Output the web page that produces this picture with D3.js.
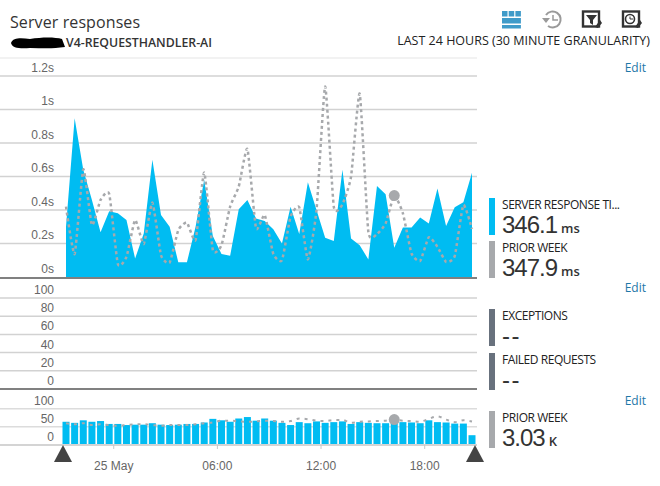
<!DOCTYPE html>
<html>
<head>
<meta charset="utf-8">
<script src="https://cdn.jsdelivr.net/npm/d3@7"></script>
<style>
  body { margin: 0; background: #fff; }
  svg { display: block; font-family: "Open Sans", "Noto Sans", sans-serif; }
  .tick text { font-size: 12px; fill: #666; }
  .domain { display: none; }
</style>
</head>
<body>
<svg id="chart" width="660" height="486"></svg>
<script>
// response time in seconds, one value per 30 minutes
const responseTime = [0.30,0.948,0.64,0.46,0.267,0.392,0.38,0.34,0.11,0.26,0.70,0.37,0.30,0.088,0.088,0.30,0.58,0.245,0.137,0.127,0.404,0.46,0.35,0.335,0.285,0.20,0.42,0.257,0.566,0.40,0.235,0.215,0.64,0.23,0.19,0.105,0.544,0.494,0.175,0.295,0.295,0.355,0.32,0.528,0.305,0.416,0.446,0.623];
const responseTimePrior = [0.42,0.137,0.643,0.31,0.46,0.496,0.078,0.12,0.34,0.197,0.444,0.13,0.086,0.28,0.325,0.22,0.623,0.16,0.19,0.42,0.54,0.765,0.29,0.37,0.137,0.10,0.36,0.416,0.105,0.40,1.137,0.42,0.434,0.60,1.094,0.27,0.257,0.32,0.486,0.38,0.14,0.096,0.237,0.18,0.09,0.125,0.43,0.287];
const requests = [64,61,68,64,66,58,58,55,56,56,60,56,55,56,58,58,62,72,68,64,73,77,67,73,67,61,55,63,60,65,61,63,65,58,63,61,60,60,60,63,62,60,68,63,62,59,59,27];
const requestsPrior = [60,57,60,55,57,55,53,55,57,57,55,53,55,55,55,57,60,62,67,67,65,64,65,67,66,64,66,73,71,67,66,69,69,61,64,65,66,67,70,67,66,64,72,79,70,63,68,65];

const responseTicks = [0, 0.2, 0.4, 0.6, 0.8, 1, 1.2];
const failureTicks = [0, 20, 40, 60, 80, 100];
const requestTicks = [0, 50, 100];
const timeTicks = [new Date(2017,4,25,0,0), new Date(2017,4,25,6,0), new Date(2017,4,25,12,0), new Date(2017,4,25,18,0)];
const startTime = new Date(2017,4,24,21,16);
const hoverIndex = 38;

const legendLabels = ["SERVER RESPONSE TI...", "PRIOR WEEK", "EXCEPTIONS", "FAILED REQUESTS", "PRIOR WEEK"];
const legendValues = ["346.1", "347.9", "--", "--", "3.03"];
const legendUnits = ["ms", "ms", "", "", "K"];

const blue = "#00bcf2", gray = "#a7a9ac", slate = "#68717d";
const svg = d3.select("#chart");
const times = responseTime.map((d, i) => d3.timeMinute.offset(startTime, i * 30));

const x = d3.scaleTime().domain([times[0], times[times.length - 1]]).range([66, 472]);
const yResp = d3.scaleLinear().domain([0, 1.2]).range([277, 76]);
const yFail = d3.scaleLinear().domain([0, 100]).range([389, 298]);
const yReq = d3.scaleLinear().domain([0, 100]).range([445, 408.7]);

// gridlines
function grid(scale, ticks, color) {
  svg.append("g").selectAll("line").data(ticks).enter().append("line")
    .attr("x1", 0).attr("x2", 477)
    .attr("y1", d => scale(d)).attr("y2", d => scale(d))
    .attr("stroke", color).attr("stroke-width", 1.5);
}
grid(yResp, responseTicks.slice(1), "#d2d2d2");
grid(yFail, failureTicks.slice(1), "#d2d2d2");
grid(yReq, requestTicks.slice(1), "#dcdcdc");
svg.append("line").attr("x1", 0).attr("x2", 477).attr("y1", 58).attr("y2", 58).attr("stroke", "#eee").attr("stroke-width", 1.5);

// response time panel
svg.append("path").datum(responseTime)
  .attr("fill", blue)
  .attr("d", d3.area().x((d, i) => x(times[i])).y0(yResp(0)).y1(d => yResp(d)));
svg.append("path").datum(responseTimePrior)
  .attr("fill", "none").attr("stroke", gray).attr("stroke-width", 2.5).attr("stroke-dasharray", "3,3")
  .attr("d", d3.line().x((d, i) => x(times[i])).y(d => yResp(d)).curve(d3.curveCardinal.tension(0.5)));
svg.append("circle").attr("cx", x(times[hoverIndex])).attr("cy", yResp(responseTimePrior[hoverIndex])).attr("r", 5.5).attr("fill", gray);

// requests panel
svg.append("g").selectAll("rect").data(requests).enter().append("rect")
  .attr("x", (d, i) => x(times[i]) - 3.5).attr("width", 7)
  .attr("y", d => yReq(d)).attr("height", d => yReq(0) - yReq(d))
  .attr("fill", blue);
svg.append("path").datum(requestsPrior)
  .attr("fill", "none").attr("stroke", gray).attr("stroke-width", 2).attr("stroke-dasharray", "3,5")
  .attr("d", d3.line().x((d, i) => x(times[i])).y(d => yReq(d)).curve(d3.curveMonotoneX));
svg.append("circle").attr("cx", x(times[hoverIndex])).attr("cy", yReq(requestsPrior[hoverIndex])).attr("r", 5.5).attr("fill", gray);

// panel separators
[[yResp(0) + 1, "#808080"], [yFail(0), "#808080"], [yReq(0), "#d4d4d4"]].forEach(([y, c]) => {
  svg.append("line").attr("x1", 0).attr("x2", 477).attr("y1", y).attr("y2", y).attr("stroke", c).attr("stroke-width", 2);
});

// axes
function leftAxis(scale, ticks, fmt) {
  const g = svg.append("g").attr("transform", "translate(54,0)")
    .call(d3.axisLeft(scale).tickValues(ticks).tickFormat(fmt).tickSize(0).tickPadding(0));
  g.selectAll("text").attr("dy", "-0.38em");
}
leftAxis(yResp, responseTicks, d => d + "s");
leftAxis(yFail, failureTicks, d => d);
leftAxis(yReq, requestTicks, d => d);

const xAxis = svg.append("g").attr("transform", "translate(0,445)")
  .call(d3.axisBottom(x).tickValues(timeTicks)
    .tickFormat(d => d.getHours() === 0 ? d3.timeFormat("%d %b")(d) : d3.timeFormat("%H:%M")(d))
    .tickSize(4).tickPadding(12));
xAxis.selectAll("line").attr("stroke", "#c8c8c8");

// range handles
[x(times[0]) - 3, x(times[times.length - 1]) + 3].forEach(cx => {
  svg.append("path").attr("d", `M${cx},445L${cx + 9},462L${cx - 9},462Z`).attr("fill", "#444");
});

// header
svg.append("text").attr("x", 10).attr("y", 28).attr("font-size", 16).attr("letter-spacing", 0.1).attr("fill", "#333").text("Server responses");
svg.append("path").attr("d", "M11,43C13,37 22,38 30,39C42,37 55,37 62,39L65,47C52,49 42,48 30,48C20,49 12,48 11,43Z").attr("fill", "#000");
svg.append("text").attr("x", 66).attr("y", 47).attr("font-size", 12.3).attr("font-weight", 600).attr("fill", "#333").text("V4-REQUESTHANDLER-AI");
svg.append("text").attr("x", 650).attr("y", 45).attr("text-anchor", "end").attr("font-size", 12.5).attr("fill", "#222").text("LAST 24 HOURS (30 MINUTE GRANULARITY)");

// toolbar icons
const gridIcon = svg.append("g").attr("fill", "#3f9bc9");
[[502,11,5.5],[508.7,11,5.5],[515.4,11,5.5],[502,18,18.9]].forEach(([a, b, w]) => gridIcon.append("rect").attr("x", a).attr("y", b).attr("width", w).attr("height", 5.5));
gridIcon.append("rect").attr("x", 502).attr("y", 25).attr("width", 18.9).attr("height", 3.5);

const hist = svg.append("g").attr("fill", "none").attr("stroke", "#9a9a9a").attr("stroke-width", 2);
hist.append("path").attr("d", "M546,15A8,8 0 1 1 548,26");
hist.append("path").attr("d", "M553,15V20H558").attr("stroke-width", 1.5);
svg.append("path").attr("d", "M542,18H550L546,23Z").attr("fill", "#9a9a9a");

[582, 622].forEach(bx => {
  svg.append("rect").attr("x", bx + 1).attr("y", 11.5).attr("width", 16).attr("height", 15).attr("fill", "none").attr("stroke", "#333").attr("stroke-width", 2.4);
  svg.append("path").attr("d", `M${bx + 18},20L${bx + 13},27L${bx + 16},28L${bx + 20},23Z`).attr("fill", "#333");
});
svg.append("path").attr("d", "M586,15H597L593,20V25L590,23V20Z").attr("fill", "#333");
svg.append("circle").attr("cx", 630).attr("cy", 19).attr("r", 4.5).attr("fill", "none").attr("stroke", "#333").attr("stroke-width", 1.6);
svg.append("path").attr("d", "M630,16.5V19H633").attr("fill", "none").attr("stroke", "#333");

// edit links
[72, 292, 405].forEach(y => {
  svg.append("text").attr("x", 646).attr("y", y).attr("text-anchor", "end").attr("font-size", 12).attr("fill", "#1f78a8").text("Edit");
});

// legend
const legendTop = [198, 241, 309, 353, 411];
const legendColors = [blue, gray, slate, slate, gray];
legendLabels.forEach((label, i) => {
  const top = legendTop[i];
  svg.append("rect").attr("x", 489).attr("y", top).attr("width", 6).attr("height", 37).attr("fill", legendColors[i]);
  svg.append("text").attr("x", 502).attr("y", top + 11).attr("font-size", 12).attr("letter-spacing", -0.45).attr("fill", "#222").text(label);
  const val = svg.append("text").attr("x", 502).attr("y", top + 35).attr("font-size", 24)
    .attr("font-family", "Liberation Sans").attr("letter-spacing", legendUnits[i] ? -1 : 1.5).attr("fill", "#333").text(legendValues[i]);
  if (legendUnits[i]) {
    svg.append("text").attr("x", 502 + val.node().getComputedTextLength() + 4).attr("y", top + 35)
      .attr("font-size", 13).attr("font-weight", 600).attr("fill", "#333").text(legendUnits[i]);
  }
});
</script>
</body>
</html>
